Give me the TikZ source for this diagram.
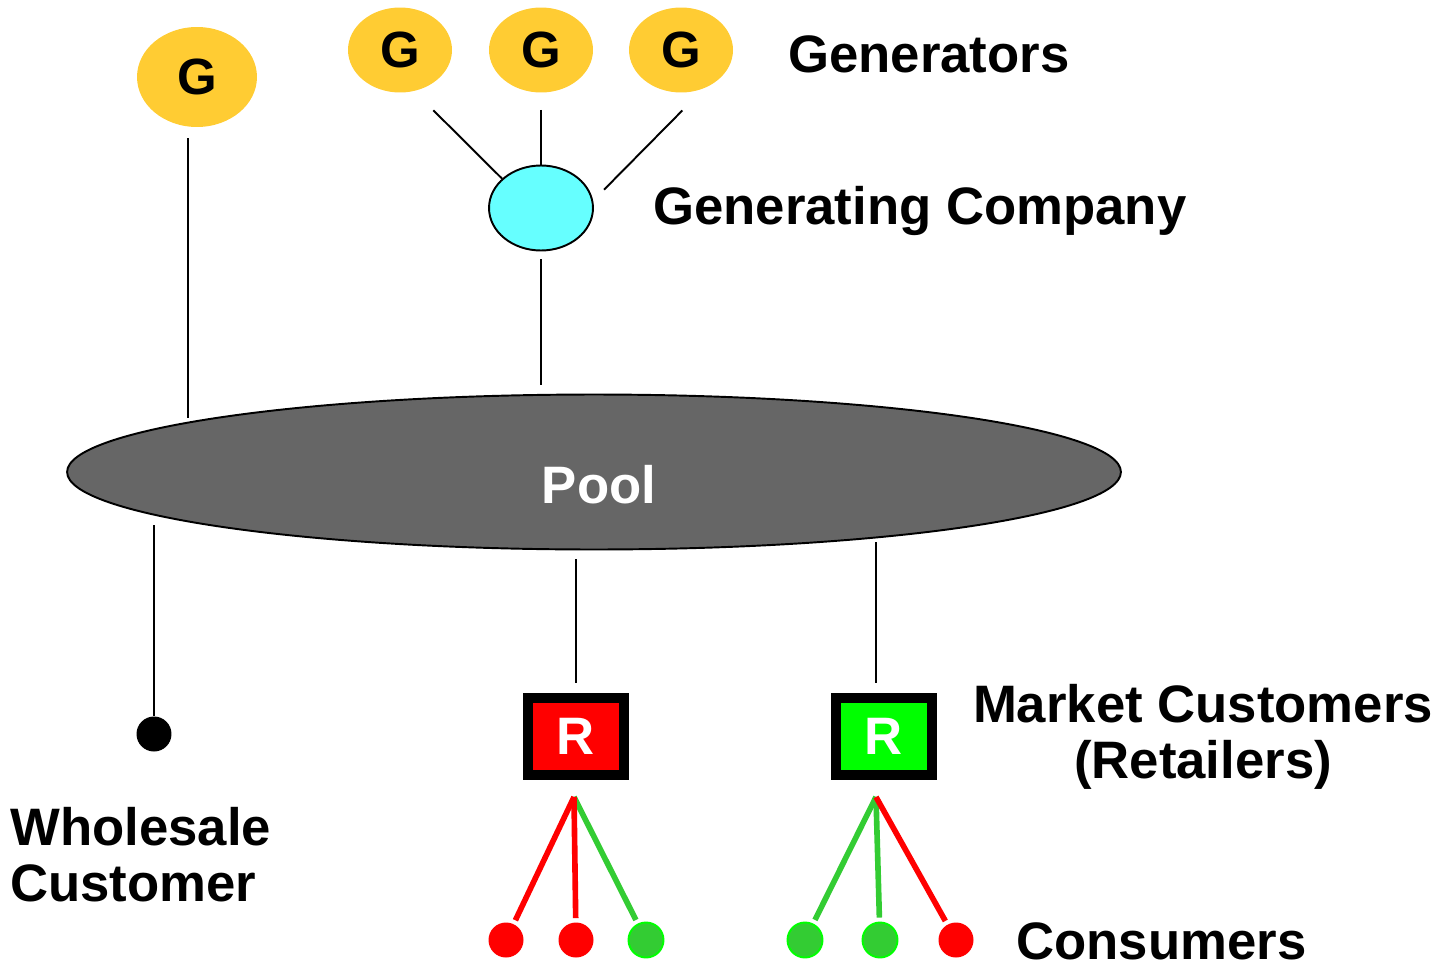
\documentclass[tikz,border=0pt]{standalone}
\usepackage{fontspec}
\setmainfont{Liberation Sans}
\usepackage{xcolor}
\usetikzlibrary{calc,shapes.geometric}

\definecolor{gengold}{HTML}{FFCC33}
\definecolor{cocyan}{HTML}{66FFFF}
\definecolor{poolgrey}{HTML}{666666}
\definecolor{mkred}{HTML}{FF0000}
\definecolor{mklime}{HTML}{00FF00}
\definecolor{mkgreen}{HTML}{33CC33}

\tikzset{
  lbl/.style={font=\fontsize{30}{32}\selectfont\bfseries, inner sep=0pt},
  gen/.style={ellipse, fill=gengold, minimum width=2.08cm, minimum height=1.7cm,
    inner sep=0pt, font=\fontsize{29}{30}\selectfont\bfseries},
  company/.style={ellipse, draw, line width=1.1pt, fill=cocyan,
    minimum width=2.08cm, minimum height=1.7cm},
  pool/.style={ellipse, draw, line width=1.1pt, fill=poolgrey,
    minimum width=21.08cm, minimum height=3.1cm},
  retailer/.style={rectangle, draw=black, line width=5.67pt, minimum width=1.92cm,
    minimum height=1.54cm, inner sep=0pt, text=white, font=\fontsize{30}{32}\selectfont\bfseries},
  enduser/.style={circle, minimum size=0.7cm, inner sep=0pt},
  redcons/.style={enduser, fill=mkred},
  greencons/.style={enduser, fill=mkgreen, draw=mklime, line width=1.1pt},
  link/.style={line width=1.1pt},
  feed/.style={line width=3.2pt, shorten >=0.08cm},
}

\begin{document}
\begin{tikzpicture}[x=0.02cm, y=-0.02cm]
  \useasboundingbox (0,0) rectangle (1443,970);

  % Generators and the generating company
  \node[gen, minimum width=2.4cm, minimum height=2cm] (gl) at (197,77) {G};
  \node[gen] (g1) at (400,50) {G};
  \node[gen] (g2) at (541,50) {G};
  \node[gen] (g3) at (681,50) {G};
  \node[lbl, anchor=base west] (genlbl) at (788,72) {Generators};
  \node[company] (gc) at (541,208) {};
  \node[lbl, anchor=base west] (gclbl) at (653,224) {Generating Company};

  % Pool
  \node[pool] (pool) at (594,472) {};
  \node[lbl, text=white, anchor=base] (pooltxt) at (599,503) {Pool};

  % Wholesale customer
  \node[enduser, fill=black] (wc) at (154,734) {};
  \node[lbl, align=left, anchor=west] (wclbl) at (10,855) {Wholesale\\Customer};

  % Retailers
  \node[retailer, fill=mkred] (r1) at (576,736.5) {R};
  \node[retailer, fill=mklime] (r2) at (884,736.5) {R};
  \node[lbl, align=center] (rlbl) at (1203,737) {Market Customers\\(Retailers)};

  % Consumers
  \node[redcons] (c1) at (506,940) {};
  \node[redcons] (c2) at (576,940) {};
  \node[greencons] (c3) at (646,940) {};
  \node[greencons] (c4) at (805,940) {};
  \node[greencons] (c5) at (880,940) {};
  \node[redcons] (c6) at (956,940) {};
  \node[lbl, anchor=base west] (conslbl) at (1016,959) {Consumers};

  % connectors into the pool
  \coordinate (pg) at (188,418);
  \coordinate (pw) at (154,525);
  \coordinate (pr) at (876,542);
  \draw[link, shorten <=0.54cm] (g1.-71) -- (gc.143);
  \draw[link, shorten <=0.34cm] (g2) -- (gc);
  \draw[link, shorten <=0.62cm, shorten >=0.31cm] (g3.-59) -- (gc.8);
  \draw[link, shorten <=0.16cm, shorten >=0.18cm] (gc.south) -- (gc.south |- pool.north);
  \draw[link, shorten <=0.22cm] (gl.south -| pg) -- (pg);
  \draw[link] (pw) -- (wc);
  \draw[link, shorten <=0.18cm, shorten >=0.2cm] (r1 |- pool.south) -- (r1.north);
  \draw[link, shorten >=0.2cm] (pr) -- (pr |- r2.north);

  % retailers to consumers
  \coordinate (r1a) at ($(r1.south)+(-2,17)$);
  \coordinate (r2a) at ($(r2.south)+(-8,17)$);
  \draw[feed, mkred] (r1a) -- (c1);
  \draw[feed, mkgreen] (r1a) -- (c3);
  \draw[feed, mkred] (r1a) -- (c2);
  \draw[feed, mkgreen] (r2a) -- (c4);
  \draw[feed, mkgreen] (r2a) -- (c5);
  \draw[feed, mkred] (r2a) -- (c6);
\end{tikzpicture}
\end{document}
